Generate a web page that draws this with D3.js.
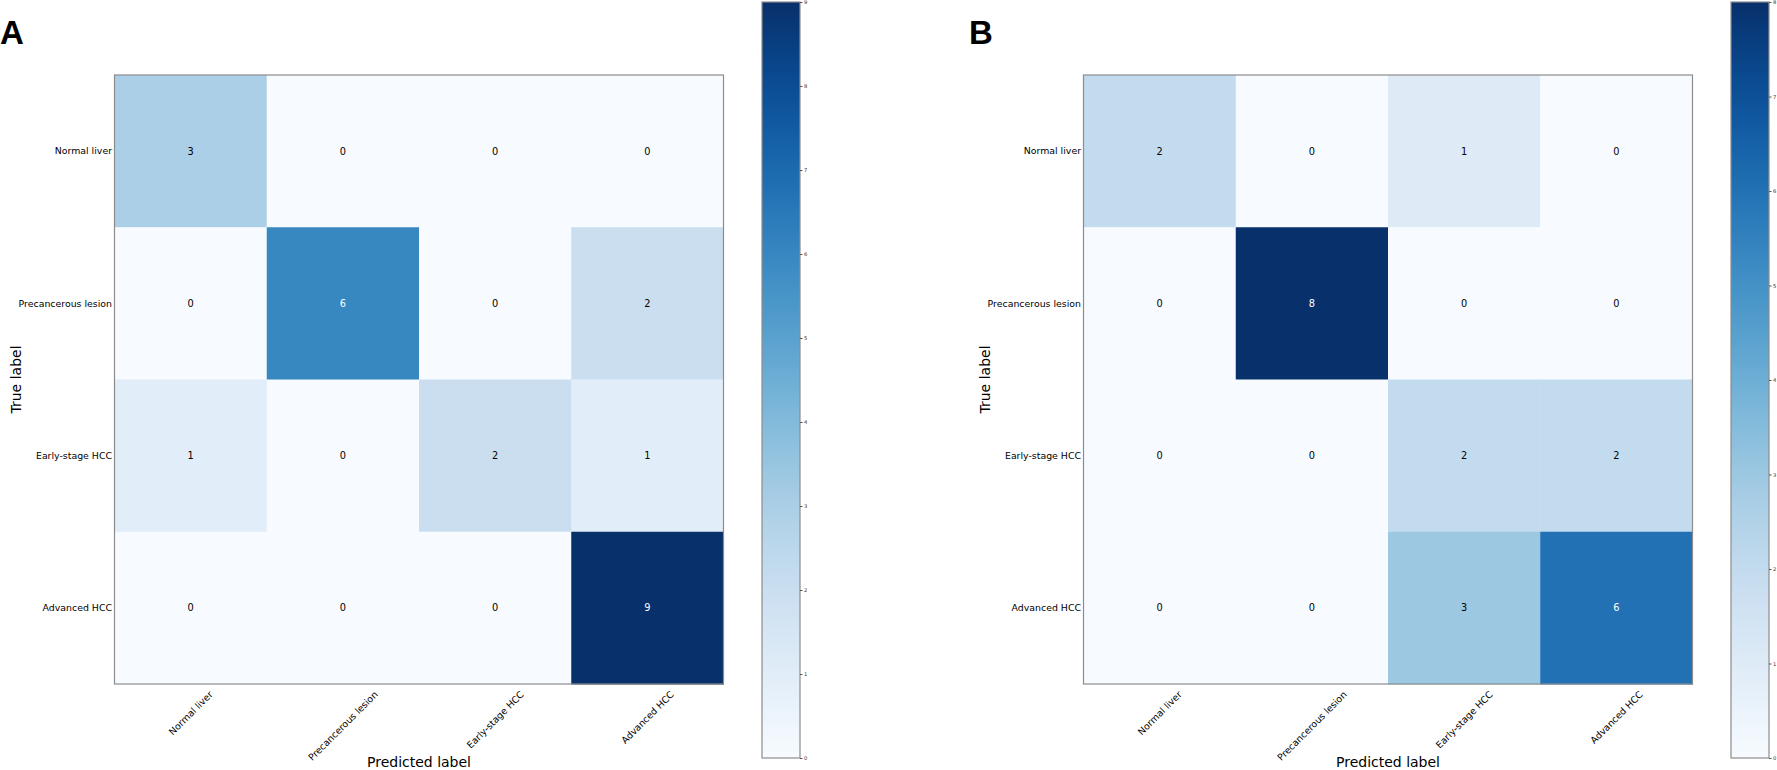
<!DOCTYPE html>
<html>
<head>
<meta charset="utf-8">
<script src="https://cdn.jsdelivr.net/npm/d3@7"></script>
<style>
  html, body { margin: 0; padding: 0; background: #fff; }
  svg { display: block; }
</style>
</head>
<body>
<script>
// Class labels shared by both confusion matrices
const classes = ["Normal liver", "Precancerous lesion", "Early-stage HCC", "Advanced HCC"];

// Rows = true label, columns = predicted label
const matrixA = [
    [3, 0, 0, 0],
    [0, 6, 0, 2],
    [1, 0, 2, 1],
    [0, 0, 0, 9]
];
const matrixB = [
    [2, 0, 1, 0],
    [0, 8, 0, 0],
    [0, 0, 2, 2],
    [0, 0, 3, 6]
];

// Colorbar ticks
const ticksA = [0, 1, 2, 3, 4, 5, 6, 7, 8, 9];
const ticksB = [0, 1, 2, 3, 4, 5, 6, 7, 8];

const W = 1777, H = 770;
const font = "'DejaVu Sans', sans-serif";
const labelSize = 9.4;

const svg = d3.select("body").append("svg")
    .attr("width", W)
    .attr("height", H)
    .attr("font-family", font);

svg.append("rect").attr("width", W).attr("height", H).attr("fill", "#fff");
const defs = svg.append("defs");

function panel(g, letter, matrix, ticks, { ox }) {
    const size = 609;
    const mx = ox + 114.5, my = 75;
    const vmax = d3.max(matrix.flat());

    const x = d3.scaleBand().domain(d3.range(classes.length)).range([mx, mx + size]);
    const y = d3.scaleBand().domain(d3.range(classes.length)).range([my, my + size]);
    const color = d3.scaleSequential(d3.interpolateBlues).domain([0, vmax]);

    // Panel letter
    g.append("text")
        .attr("x", ox)
        .attr("y", 44)
        .attr("font-family", "'Liberation Sans', Arial, sans-serif")
        .attr("font-weight", "700")
        .attr("font-size", 33)
        .text(letter);

    // Cells
    const cells = matrix.flatMap((row, i) => row.map((v, j) => ({ i, j, v })));
    g.append("g").selectAll("rect")
        .data(cells)
        .join("rect")
        .attr("x", d => x(d.j))
        .attr("y", d => y(d.i))
        .attr("width", x.bandwidth() + 0.5)
        .attr("height", y.bandwidth() + 0.5)
        .attr("fill", d => color(d.v));

    // Cell values, white on dark cells (value above half the max)
    g.append("g").selectAll("text")
        .data(cells)
        .join("text")
        .attr("x", d => x(d.j) + x.bandwidth() / 2)
        .attr("y", d => y(d.i) + y.bandwidth() / 2)
        .attr("dy", "0.35em")
        .attr("text-anchor", "middle")
        .attr("font-size", labelSize + 0.4)
        .attr("fill", d => d.v > vmax / 2 ? "#fff" : "#000")
        .text(d => d.v);

    // Frame
    g.append("rect")
        .attr("x", mx).attr("y", my)
        .attr("width", size).attr("height", size)
        .attr("fill", "none")
        .attr("stroke", "#8c8c8c")
        .attr("stroke-width", 1.2);

    // Y tick labels
    g.append("g").selectAll("text")
        .data(classes)
        .join("text")
        .attr("x", mx - 2.5)
        .attr("y", (d, i) => y(i) + y.bandwidth() / 2)
        .attr("dy", "0.35em")
        .attr("text-anchor", "end")
        .attr("font-size", labelSize)
        .text(d => d);

    // X tick labels, rotated 45 degrees and centred on the column
    const xTop = my + size + 5;
    g.append("g").selectAll("text")
        .data(classes)
        .join("text")
        .attr("text-anchor", "middle")
        .attr("dominant-baseline", "central")
        .attr("font-size", labelSize)
        .text(d => d)
        .each(function (d, i) {
            const len = this.getComputedTextLength();
            const half = (len + labelSize * 1.1) * Math.SQRT1_2 / 2;
            d3.select(this).attr("transform",
                `translate(${x(i) + x.bandwidth() / 2},${xTop + half}) rotate(-45)`);
        });

    // Axis titles
    g.append("text")
        .attr("transform", `translate(${ox + 21},${my + size / 2}) rotate(-90)`)
        .attr("text-anchor", "middle")
        .attr("font-size", 14)
        .text("True label");

    g.append("text")
        .attr("x", mx + size / 2)
        .attr("y", 767)
        .attr("text-anchor", "middle")
        .attr("font-size", 14)
        .text("Predicted label");

    // Colorbar
    const cbx = ox + 762, cbw = 38, cbTop = 2, cbBottom = 758;
    const cy = d3.scaleLinear().domain([0, vmax]).range([cbBottom, cbTop]);
    const gid = `grad-${letter}`;
    const grad = defs.append("linearGradient")
        .attr("id", gid)
        .attr("x1", 0).attr("y1", 1).attr("x2", 0).attr("y2", 0);
    d3.range(0, 1.0001, 0.05).forEach(t => {
        grad.append("stop").attr("offset", t).attr("stop-color", d3.interpolateBlues(t));
    });
    g.append("rect")
        .attr("x", cbx).attr("y", cbTop)
        .attr("width", cbw).attr("height", cbBottom - cbTop)
        .attr("fill", `url(#${gid})`)
        .attr("stroke", "#8c8c8c")
        .attr("stroke-width", 1.2);

    const axis = g.append("g")
        .attr("transform", `translate(${cbx + cbw},0)`)
        .call(d3.axisRight(cy).tickValues(ticks).tickSize(2.5).tickPadding(1.5));
    axis.select(".domain").remove();
    axis.selectAll("line").attr("stroke", "#555");
    axis.selectAll("text").attr("font-size", 5.2).attr("font-family", font).attr("fill", "#333");
}

panel(svg.append("g"), "A", matrixA, ticksA, { ox: 0 });
panel(svg.append("g"), "B", matrixB, ticksB, { ox: 969 });
</script>
</body>
</html>
